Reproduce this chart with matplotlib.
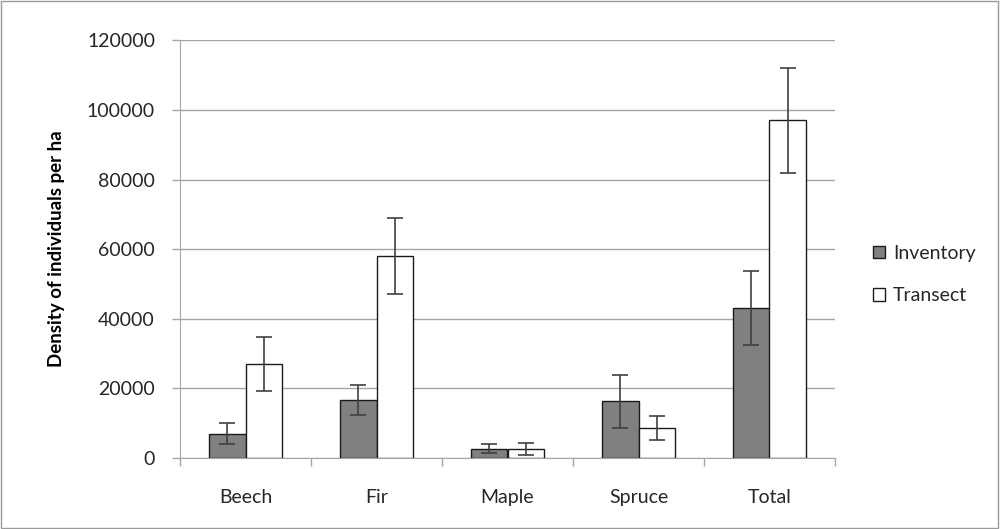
import matplotlib
matplotlib.use("Agg")
import matplotlib.pyplot as plt
import numpy as np
from matplotlib.patches import Rectangle

categories = ["Beech", "Fir", "Maple", "Spruce", "Total"]
inventory = [7000, 16700, 2700, 16300, 43000]
inventory_err = [3000, 4400, 1300, 7600, 10600]
transect = [27000, 58000, 2700, 8700, 97000]
transect_err = [7700, 11000, 1700, 3500, 15000]
yticks = [0, 20000, 40000, 60000, 80000, 100000, 120000]

plt.rcParams['font.family'] = ['Lato', 'DejaVu Sans']

fig = plt.figure(figsize=(10, 5.29), dpi=100)
ax = fig.add_axes([0.180, 0.134, 0.655, 0.790])

x = np.arange(len(categories))
w = 0.28
grid_col = "#a6a6a6"
ax.set_axisbelow(True)
ax.yaxis.grid(True, color=grid_col, linewidth=1)

ax.bar(x - w / 2, inventory, w, color="#808080", edgecolor="#1a1a1a", linewidth=1, label="Inventory", zorder=2)
ax.bar(x + w / 2, transect, w, color="white", edgecolor="#1a1a1a", linewidth=1, label="Transect", zorder=2)
ax.errorbar(x - w / 2, inventory, yerr=inventory_err, fmt="none", ecolor="#404040", elinewidth=1.2, capsize=6, capthick=1.2, zorder=3)
ax.errorbar(x + w / 2, transect, yerr=transect_err, fmt="none", ecolor="#404040", elinewidth=1.2, capsize=6, capthick=1.2, zorder=3)

ax.set_xlim(-0.5, len(categories) - 0.5)
ax.set_ylim(0, 120000)
ax.set_yticks(yticks)
ax.set_yticklabels([str(v) for v in yticks], fontsize=14, color="#262626")
ax.set_xticks(x)
ax.set_xticklabels(categories, fontsize=14, color="#262626")
ax.tick_params(axis="x", length=0, pad=22)
ax.set_xticks(np.arange(-0.5, len(categories), 1.0), minor=True)
ax.tick_params(axis="x", which="minor", length=6, color=grid_col, width=1)
ax.tick_params(axis="y", length=6, color=grid_col, width=1, pad=12)

for side in ["top", "right"]:
    ax.spines[side].set_visible(False)
ax.spines["left"].set_color(grid_col)
ax.spines["bottom"].set_color(grid_col)

ax.set_ylabel("Density of individuals per ha", fontsize=13.5, fontweight="bold", labelpad=16)

leg = ax.legend(loc="center left", bbox_to_anchor=(1.058, 0.439), frameon=False, fontsize=14,
                borderpad=0, borderaxespad=0,
                handlelength=0.62, handleheight=0.62, handletextpad=0.4, labelspacing=1.3)
for t in leg.get_texts():
    t.set_color("#262626")

fig.patches.append(Rectangle((0.001, 0.002), 0.997, 0.996, transform=fig.transFigure,
                             fill=False, edgecolor="#9a9a9a", linewidth=1))

fig.savefig("out.png", dpi=100)
